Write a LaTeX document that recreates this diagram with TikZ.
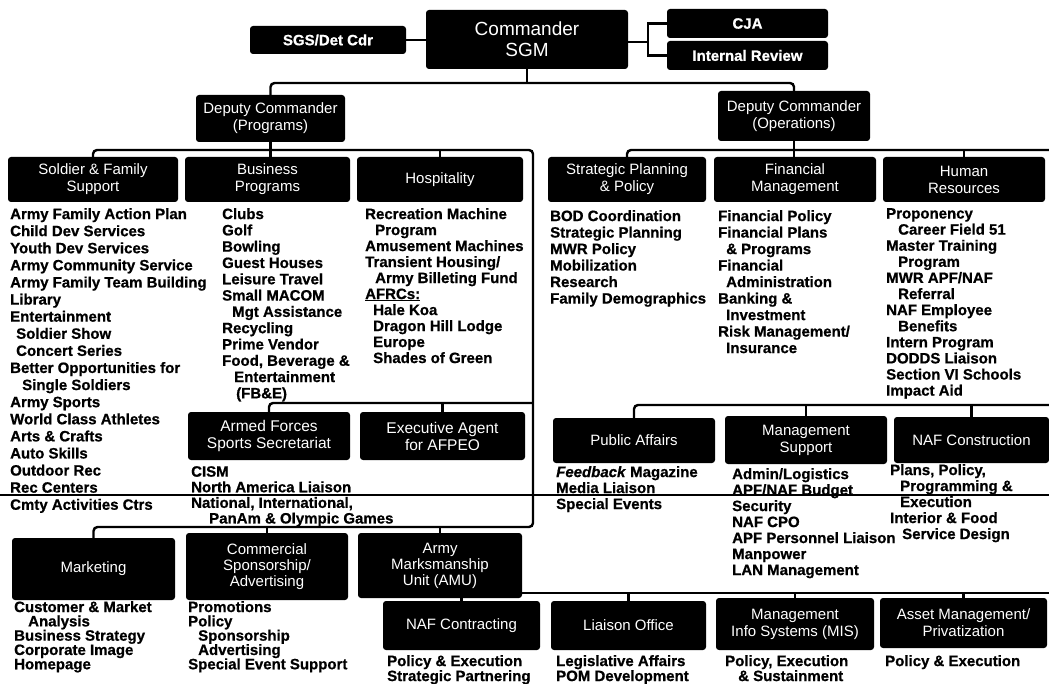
\documentclass[tikz,border=0pt]{standalone}
\usepackage{fontspec}
\setmainfont{Liberation Sans}[BoldFeatures={FakeBold=0.8},BoldItalicFeatures={FakeBold=0.8}]
\newcommand\lfont[1]{\bfseries\fontsize{15}{#1}\selectfont}
\newcommand\bfnt{\fontsize{15}{17}\selectfont}
\newcommand\myBox[7][]{%
  \pgfmathsetmacro\myBW{#5-#3}\pgfmathsetmacro\myBH{#6-#4}%
  \pgfmathsetmacro\myCX{(#3+#5)/2}\pgfmathsetmacro\myCY{(#4+#6)/2}%
  \node[box,#1,minimum width=\myBW pt,minimum height=\myBH pt] (#2) at (\myCX,\myCY) {#7};}
\newcommand\ind[1]{\hspace*{#1pt}}
\begin{document}
\begin{tikzpicture}[x=1pt,y=-1pt,
  box/.style={fill=black, rounded corners=3pt, text=white, align=center, inner sep=0pt, font=\bfnt},
  lst/.style={anchor=north west, align=left, inner sep=0pt},
  conn/.style={line width=2.4pt, draw=black, rounded corners=4pt},
  scan/.style={line width=1.5pt, draw=black}]
\fill[white] (0,0) rectangle (1049,684);
\useasboundingbox (0,0) rectangle (1049,684);

% ---- boxes ----
\myBox[font=\bfnt\bfseries]{sgs}{250}{26}{406}{54}{SGS/Det Cdr}
\myBox[font=\fontsize{19}{21}\selectfont]{cmd}{426}{10}{628}{69}{Commander\\SGM}
\myBox[font=\bfnt\bfseries]{cja}{667}{9}{828}{38}{CJA}
\myBox[font=\bfnt\bfseries]{irv}{667}{41}{828}{70}{Internal Review}
\myBox{progs}{196}{95}{345}{142}{Deputy Commander\\(Programs)}
\myBox{ops}{718}{91}{870}{141}{Deputy Commander\\(Operations)}
\myBox{sfs}{8}{157}{178}{202}{Soldier \& Family\\Support}
\myBox{bus}{185}{157}{350}{202}{Business\\Programs}
\myBox{hosp}{357}{157}{523}{202}{Hospitality}
\myBox{spp}{548}{157}{706}{202}{Strategic Planning\\\& Policy}
\myBox{fm}{714}{157}{876}{202}{Financial\\Management}
\myBox{hr}{883}{157}{1045}{202}{Human\\Resources}
\myBox[font=\fontsize{15.5}{17}\selectfont]{afss}{188}{412}{350}{460}{Armed Forces\\Sports Secretariat}
\myBox[font=\fontsize{15.5}{17}\selectfont]{afpeo}{360}{412}{525}{460}{Executive Agent\\for AFPEO}
\myBox{pa}{553}{418}{715}{463}{Public Affairs}
\myBox{ms}{725}{416}{887}{464}{Management\\Support}
\myBox{nafcon}{894}{417}{1049}{463}{NAF Construction}
\myBox{mkt}{12}{538}{175}{600}{Marketing}
\myBox[font=\fontsize{15}{16}\selectfont]{csa}{186}{533}{348}{600}{Commercial\\Sponsorship/\\Advertising}
\myBox[font=\fontsize{15}{16}\selectfont]{amu}{358}{533}{522}{598}{Army\\Marksmanship\\Unit (AMU)}
\myBox{nafc}{383}{601}{540}{650}{NAF Contracting}
\myBox{lia}{551}{601}{706}{650}{Liaison Office}
\myBox{mis}{716}{598}{874}{650}{Management\\Info Systems (MIS)}
\myBox{asset}{880}{598}{1047}{648}{Asset Management/\\Privatization}

% ---- junction coordinates ----
\coordinate (brk) at (648,42);
\coordinate (j1) at (525,83);
\coordinate (j2) at (533,150);
\coordinate (j3) at (533,527);
\coordinate (j4) at (533,403);
\coordinate (e2) at (1049,150);
\coordinate (e3) at (1049,405);
\coordinate (e5) at (1049,593);
\coordinate (fl) at (0,495);
\coordinate (fr) at (1049,495);

% ---- connectors ----
\draw[conn] (sgs.east) -- (cmd.west |- sgs.east);
\draw[conn] (cmd.east |- brk) -- (brk);
\draw[conn,rounded corners=0pt] (cja.west) -| (brk) |- (irv.west);
\draw[conn] (cmd.south) -- (cmd.south |- j1);
\draw[conn] (progs.north) |- (j1) -| (ops.north);
\draw[conn] (sfs.north) |- (j2) -- (j3) -| (mkt.north);
\draw[conn] (progs.south) -- (progs.south |- bus.north);
\draw[conn] (hosp.north) -- (hosp.north |- j2);
\draw[conn] (afss.north) |- (j4);
\draw[conn] (afpeo.north) -- (afpeo.north |- j4);
\draw[conn] (csa.north) -- (csa.north |- j3);
\draw[conn] (amu.north) -- (amu.north |- j3);
\draw[conn] (nafc.north) -- (nafc.north |- amu.south);
\draw[conn] (nafc.north |- e5) -- (e5);
\draw[conn] (lia.north) -- (lia.north |- e5);
\draw[conn] (mis.north) -- (mis.north |- e5);
\draw[conn] (asset.north) -- (asset.north |- e5);
\draw[conn] (spp.north) |- (e2);
\draw[conn] (ops.south) -- (ops.south |- fm.north);
\draw[conn] (hr.north) -- (hr.north |- e2);
\draw[conn] (pa.north) |- (e3);
\draw[conn] (ms.north) -- (ms.north |- e3);
\draw[conn] (nafcon.north) -- (nafcon.north |- e3);
\draw[scan] (fl) -- (fr);

% ---- lists ----
\node[lst,font=\lfont{17.1}] (sfsl) at (10,208) {Army Family Action Plan\\Child Dev Services\\Youth Dev Services\\Army Community Service\\Army Family Team Building\\Library\\Entertainment\\\ind{6}Soldier Show\\\ind{6}Concert Series\\Better Opportunities for\\\ind{12}Single Soldiers\\Army Sports\\World Class Athletes\\Arts \& Crafts\\Auto Skills\\Outdoor Rec\\Rec Centers\\Cmty Activities Ctrs};
\node[lst,font=\lfont{16.3}] (busl) at (222,208) {Clubs\\Golf\\Bowling\\Guest Houses\\Leisure Travel\\Small MACOM\\\ind{10}Mgt Assistance\\Recycling\\Prime Vendor\\Food, Beverage \&\\\ind{12}Entertainment\\\ind{14}(FB\&E)};
\node[lst,font=\lfont{16}] (hospl) at (365,208) {Recreation Machine\\\ind{10}Program\\Amusement Machines\\Transient Housing/\\\ind{10}Army Billeting Fund\\\underline{AFRCs:}\\\ind{8}Hale Koa\\\ind{8}Dragon Hill Lodge\\\ind{8}Europe\\\ind{8}Shades of Green};
\node[lst,font=\lfont{16.5}] (sppl) at (550,210) {BOD Coordination\\Strategic Planning\\MWR Policy\\Mobilization\\Research\\Family Demographics};
\node[lst,font=\lfont{16.5}] (fml) at (718,210) {Financial Policy\\Financial Plans\\\ind{8}\& Programs\\Financial\\\ind{8}Administration\\Banking \&\\\ind{8}Investment\\Risk Management/\\\ind{8}Insurance};
\node[lst,font=\lfont{16.1}] (hrl) at (886,208) {Proponency\\\ind{12}Career Field 51\\Master Training\\\ind{12}Program\\MWR APF/NAF\\\ind{12}Referral\\NAF Employee\\\ind{12}Benefits\\Intern Program\\DODDS Liaison\\Section VI Schools\\Impact Aid};
\node[lst,font=\lfont{15.6}] (afssl) at (191,466) {CISM\\North America Liaison\\National, International,\\\ind{18}PanAm \& Olympic Games};
\node[lst,font=\lfont{16}] (pal) at (556,466) {\textit{Feedback} Magazine\\Media Liaison\\Special Events};
\node[lst,font=\lfont{16}] (msl) at (732,468) {Admin/Logistics\\APF/NAF Budget\\Security\\NAF CPO\\APF Personnel Liaison\\Manpower\\LAN Management};
\node[lst,font=\lfont{16}] (nafconl) at (890,464) {Plans, Policy,\\\ind{10}Programming \&\\\ind{10}Execution\\Interior \& Food\\\ind{12}Service Design};
\node[lst,font=\lfont{14.3}] (mktl) at (14,601) {Customer \& Market\\\ind{14}Analysis\\Business Strategy\\Corporate Image\\Homepage};
\node[lst,font=\lfont{14.3}] (csal) at (188,601) {Promotions\\Policy\\\ind{10}Sponsorship\\\ind{10}Advertising\\Special Event Support};
\node[lst,font=\lfont{15}] (nafcl) at (387,655) {Policy \& Execution\\Strategic Partnering};
\node[lst,font=\lfont{15}] (lial) at (556,655) {Legislative Affairs\\POM Development};
\node[lst,font=\lfont{15}] (misl) at (725,655) {Policy, Execution\\\ind{13}\& Sustainment};
\node[lst,font=\lfont{15}] (assetl) at (885,655) {Policy \& Execution};
\end{tikzpicture}
\end{document}
